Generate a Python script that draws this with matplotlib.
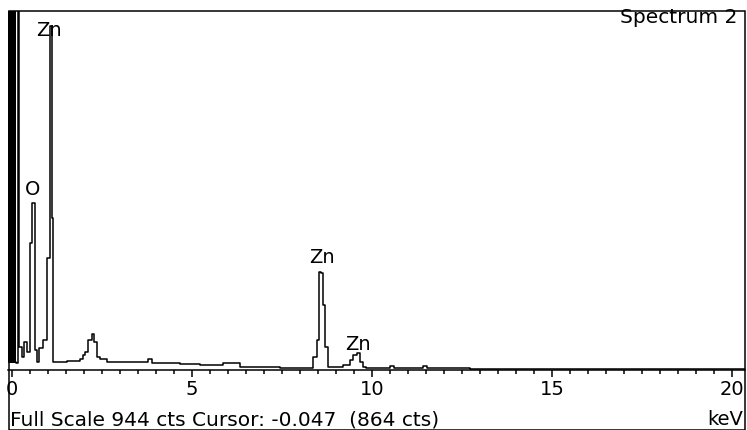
import matplotlib
matplotlib.use('Agg')
import matplotlib.pyplot as plt
from matplotlib.patches import Rectangle
from matplotlib.ticker import MultipleLocator

# spectrum: step start energy (keV) and counts
energy = [-0.11, -0.09, -0.08, -0.06, -0.05, -0.03, -0.02, 0.0, 0.01, 0.03,
          0.04, 0.06, 0.07, 0.09, 0.11, 0.17, 0.19,
          0.28, 0.33, 0.42, 0.49, 0.56, 0.65, 0.69, 0.76, 0.86, 0.97,
          1.06, 1.10, 1.15, 1.19, 1.53, 1.89, 1.97, 2.03, 2.11, 2.21,
          2.28, 2.36, 2.44, 2.64, 2.72, 3.00, 3.78, 3.89, 4.67, 5.22,
          5.86, 6.33, 7.44, 8.00, 8.36, 8.46, 8.54, 8.58, 8.65, 8.69,
          8.79, 9.19, 9.39, 9.48, 9.58, 9.67, 9.76, 9.83, 10.50, 10.61,
          11.42, 11.53, 12.72, 14.11, 20.36]
counts = [1200, 20, 1200, 20, 1200, 20, 1200, 20, 1200, 20,
          1200, 20, 1200, 20, 18, 1200, 60,
          34, 73, 47, 333, 440, 52, 21, 58, 79, 294,
          905, 399, 21, 21, 24, 29, 40, 47, 79, 94,
          73, 34, 29, 21, 21, 21, 29, 18, 16, 13,
          18, 8, 5, 5, 34, 79, 257, 254, 170, 60,
          8, 13, 26, 39, 45, 21, 8, 5, 10, 5,
          10, 4, 3, 2, 2]

full_scale = 944
x_min, x_max = -0.111, 20.36
tick_vals = [0, 5, 10, 15, 20]
tick_labels = ['0', '5', '10', '15', '20']

# peak labels: (text, keV, counts at baseline)
peak_labels = [('Zn', 1.03, 878), ('O', 0.56, 459),
               ('Zn', 8.61, 281), ('Zn', 9.61, 52)]

W, H = 747, 430
fig = plt.figure(figsize=(W / 100, H / 100), dpi=100)
fig.patch.set_facecolor('white')

ax = fig.add_axes([8 / W, 60 / H, 737 / W, 359 / H])
ax.step(energy, counts, where='post', color='black', lw=1.1)
ax.set_xlim(x_min, x_max)
ax.set_ylim(0, full_scale)

for s in ('top', 'left', 'right'):
    ax.spines[s].set_visible(False)
ax.spines['bottom'].set_linewidth(1.1)
ax.set_yticks([])
ax.set_xticks(tick_vals)
ax.set_xticklabels(tick_labels)
ax.xaxis.set_minor_locator(MultipleLocator(0.5))
ax.tick_params(axis='x', which='major', direction='out', length=5,
               width=1.1, pad=2, labelsize=14)
ax.tick_params(axis='x', which='minor', direction='out', length=3,
               width=1.1)

for txt, xe, yc in peak_labels:
    ax.text(xe, yc, txt, ha='center', va='baseline', fontsize=14)

fig.text(737 / W, 1 - 23 / H, 'Spectrum 2', ha='right', va='baseline',
         fontsize=14.5)
fig.text(10 / W, 1 - 425 / H, 'Full Scale 944 cts Cursor: -0.047  (864 cts)',
         ha='left', va='baseline', fontsize=14.5)
fig.text(743 / W, 1 - 425 / H, 'keV', ha='right', va='baseline', fontsize=14)

# outer frame
fig.add_artist(Rectangle((8.5 / W, 0), 736.5 / W, 419 / H,
                         transform=fig.transFigure, fill=False,
                         lw=1.1, ec='black'))

fig.savefig('out.png', dpi=100)
